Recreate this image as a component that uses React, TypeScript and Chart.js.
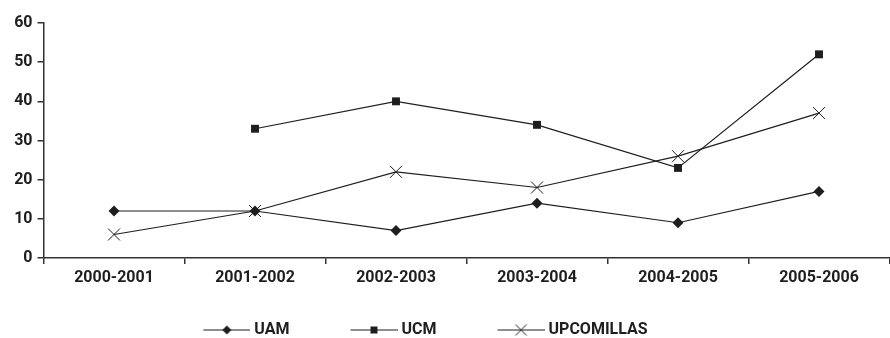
import React, { useEffect, useRef } from 'react';
import { Chart, registerables } from 'chart.js';

Chart.register(...registerables);

const categories = ['2000-2001', '2001-2002', '2002-2003', '2003-2004', '2004-2005', '2005-2006'];
const uamValues = [12, 12, 7, 14, 9, 17];
const ucmValues: (number | null)[] = [null, 33, 40, 34, 23, 52];
const upcomillasValues = [6, 12, 22, 18, 26, 37];
const seriesNames = ['UAM', 'UCM', 'UPCOMILLAS'];
const yMin = 0;
const yMax = 60;
const yStep = 10;

const INK = '#1e1e1e';
const FONT = { family: 'Roboto, "Liberation Sans", sans-serif', size: 16, weight: 'bold' as any };

function legendImage(kind: string): HTMLCanvasElement {
  const c = document.createElement('canvas');
  c.width = 102;
  c.height = 14;
  const ctx = c.getContext('2d')!;
  ctx.strokeStyle = INK;
  ctx.fillStyle = INK;
  ctx.lineWidth = 1.2;
  ctx.beginPath();
  ctx.moveTo(55, 7);
  ctx.lineTo(102, 7);
  ctx.stroke();
  const cx = 78.5;
  const cy = 7;
  if (kind === 'diamond') {
    ctx.beginPath();
    ctx.moveTo(cx, cy - 4.5);
    ctx.lineTo(cx + 4.5, cy);
    ctx.lineTo(cx, cy + 4.5);
    ctx.lineTo(cx - 4.5, cy);
    ctx.closePath();
    ctx.fill();
  } else if (kind === 'square') {
    ctx.fillRect(cx - 3.5, cy - 3.5, 7, 7);
  } else {
    ctx.lineWidth = 1;
    ctx.beginPath();
    ctx.moveTo(cx - 5.5, cy - 5.5);
    ctx.lineTo(cx + 5.5, cy + 5.5);
    ctx.moveTo(cx + 5.5, cy - 5.5);
    ctx.lineTo(cx - 5.5, cy + 5.5);
    ctx.stroke();
  }
  return c;
}

export default function App() {
  const ref = useRef<HTMLCanvasElement | null>(null);

  useEffect(() => {
    if (!ref.current) return;
    const imgs = [legendImage('diamond'), legendImage('square'), legendImage('cross')];
    const chart = new Chart(ref.current, {
      type: 'line',
      data: {
        labels: categories,
        datasets: [
          {
            label: seriesNames[0],
            data: uamValues,
            borderColor: INK,
            backgroundColor: INK,
            borderWidth: 1.2,
            pointStyle: 'rectRot',
            pointRadius: 5.5,
            pointBorderWidth: 0,
            pointBackgroundColor: INK,
          },
          {
            label: seriesNames[1],
            data: ucmValues,
            borderColor: INK,
            backgroundColor: INK,
            borderWidth: 1.2,
            pointStyle: 'rect',
            pointRadius: 5.6,
            pointBorderWidth: 0,
            pointBackgroundColor: INK,
          },
          {
            label: seriesNames[2],
            data: upcomillasValues,
            borderColor: INK,
            backgroundColor: INK,
            borderWidth: 1.2,
            pointStyle: 'crossRot',
            pointRadius: 8.5,
            pointBorderWidth: 1,
            pointBorderColor: INK,
          },
        ],
      },
      options: {
        responsive: false,
        animation: false,
        layout: { padding: { top: 23, left: 0, right: 0, bottom: 0 } },
        plugins: {
          tooltip: { enabled: false },
          legend: {
            position: 'bottom',
            labels: {
              usePointStyle: true,
              pointStyleWidth: 94,
              padding: 10,
              color: INK,
              font: FONT,
              generateLabels: (ch: any) =>
                ch.data.datasets.map((ds: any, i: number) => ({
                  text: ds.label,
                  pointStyle: imgs[i],
                  fillStyle: INK,
                  strokeStyle: INK,
                  lineWidth: 0,
                  hidden: false,
                  datasetIndex: i,
                  fontColor: INK,
                })),
            },
          },
        },
        scales: {
          x: {
            type: 'category',
            offset: true,
            afterFit: (scale: any) => {
              scale.height = 54;
            },
            grid: {
              display: true,
              drawOnChartArea: false,
              drawTicks: true,
              tickLength: 6,
              offset: true,
              color: '#333',
              lineWidth: 1.5,
            },
            border: { display: true, color: '#333', width: 1.5 },
            ticks: { color: INK, font: FONT, padding: 4.4, maxRotation: 0, autoSkip: false },
          },
          y: {
            min: yMin,
            max: yMax,
            afterFit: (scale: any) => {
              scale.width = 142.5;
            },
            grid: {
              display: true,
              drawOnChartArea: false,
              drawTicks: true,
              tickLength: 6,
              color: '#333',
              lineWidth: 1.5,
            },
            border: { display: true, color: '#333', width: 1.5 },
            ticks: { stepSize: yStep, color: INK, font: FONT, padding: 5 },
          },
        },
      },
    } as any);
    return () => chart.destroy();
  }, []);

  return (
    <div style={{ position: 'fixed', left: 0, top: 0, width: 890, height: 338, overflow: 'hidden', background: '#fff' }}>
      <canvas ref={ref} width={998} height={348} style={{ position: 'absolute', left: -99, top: 0 }} />
    </div>
  );
}
